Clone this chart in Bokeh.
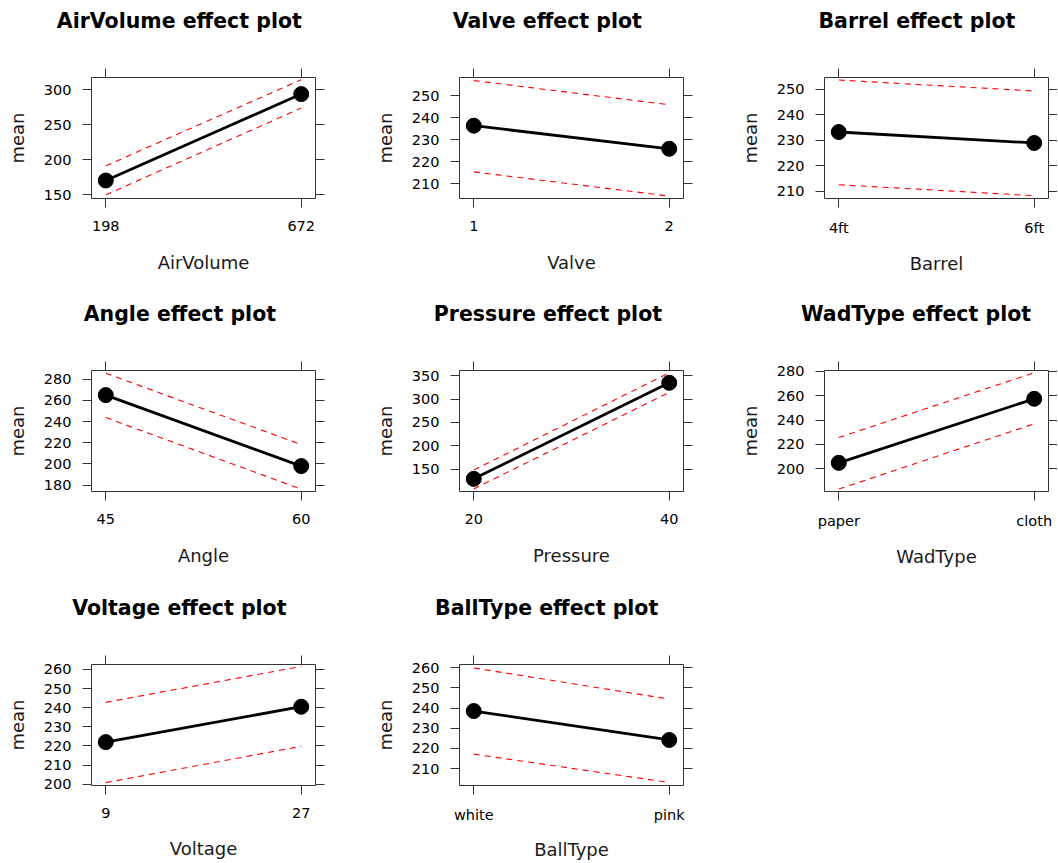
from bokeh.plotting import figure
from bokeh.layouts import column, row
from bokeh.models import FixedTicker, LinearAxis, Range1d, CustomJSTickFormatter
from bokeh.embed import file_html
from bokeh.resources import INLINE

# ---------------- data ----------------
predictors = ["AirVolume", "Valve", "Barrel", "Angle", "Pressure", "WadType", "Voltage", "BallType"]

airvolume_levels = [198, 672]
valve_levels = [1, 2]
barrel_levels = ["4ft", "6ft"]
angle_levels = [45, 60]
pressure_levels = [20, 40]
wadtype_levels = ["paper", "cloth"]
voltage_levels = [9, 27]
balltype_levels = ["white", "pink"]

airvolume_fit = [170.0, 293.5]
airvolume_lower = [149.5, 273.5]
airvolume_upper = [191.0, 314.0]

valve_fit = [236.5, 226.0]
valve_lower = [215.5, 204.5]
valve_upper = [257.0, 246.0]

barrel_fit = [233.3, 229.0]
barrel_lower = [212.6, 208.3]
barrel_upper = [253.7, 249.4]

angle_fit = [265.0, 198.0]
angle_lower = [243.8, 176.2]
angle_upper = [285.6, 218.3]

pressure_fit = [129.0, 335.0]
pressure_lower = [107.5, 314.5]
pressure_upper = [148.0, 356.5]

wadtype_fit = [204.8, 257.5]
wadtype_lower = [183.2, 236.9]
wadtype_upper = [225.6, 279.0]

voltage_fit = [222.0, 240.5]
voltage_lower = [200.8, 219.8]
voltage_upper = [242.8, 261.6]

balltype_fit = [238.5, 224.2]
balltype_lower = [217.2, 203.2]
balltype_upper = [259.8, 244.4]

airvolume_yticks = [150, 200, 250, 300]
valve_yticks = [210, 220, 230, 240, 250]
barrel_yticks = [210, 220, 230, 240, 250]
angle_yticks = [180, 200, 220, 240, 260, 280]
pressure_yticks = [150, 200, 250, 300, 350]
wadtype_yticks = [200, 220, 240, 260, 280]
voltage_yticks = [200, 210, 220, 230, 240, 250, 260]
balltype_yticks = [210, 220, 230, 240, 250, 260]

levels = [airvolume_levels, valve_levels, barrel_levels, angle_levels,
          pressure_levels, wadtype_levels, voltage_levels, balltype_levels]
fits = [airvolume_fit, valve_fit, barrel_fit, angle_fit,
        pressure_fit, wadtype_fit, voltage_fit, balltype_fit]
lowers = [airvolume_lower, valve_lower, barrel_lower, angle_lower,
          pressure_lower, wadtype_lower, voltage_lower, balltype_lower]
uppers = [airvolume_upper, valve_upper, barrel_upper, angle_upper,
          pressure_upper, wadtype_upper, voltage_upper, balltype_upper]
yticks = [airvolume_yticks, valve_yticks, barrel_yticks, angle_yticks,
          pressure_yticks, wadtype_yticks, voltage_yticks, balltype_yticks]

# ---------------- layout / style ----------------
y_limits = [(144.3, 317.2), (203.4, 258.4), (207.2, 254.7), (174.0, 288.2),
            (101.9, 361.4), (181.2, 280.8), (199.3, 262.6), (201.7, 261.5)]

FRAME_W = 224
FRAME_H = 121
col_left = [91, 124, 121]
col_right = [20, 20, 9]
col_title_shift = [0, 0, 4]
row_height = [293, 294, 275]
row_top = [77, 77, 77]

FONT = "DejaVu Sans"
INK = "#1a1a1a"
BOX = "#333333"
TITLE_PX = 20.5

# approximate advance widths of DejaVu Sans Bold (units per 2048 em), used to centre titles
_BOLD_W = {"A": 1585, "B": 1561, "P": 1500, "T": 1402, "V": 1585, "W": 2116,
           "a": 1382, "c": 1214, "d": 1466, "e": 1389, "f": 891, "g": 1466,
           "i": 702, "l": 702, "m": 2134, "n": 1458, "o": 1407, "p": 1466,
           "r": 1010, "s": 1219, "t": 979, "u": 1458, "v": 1335, "y": 1335, " ": 713}


def text_width(s, px):
    return sum(_BOLD_W.get(ch, 1300) for ch in s) / 2048.0 * px


def make_panel(i, r, c):
    name = predictors[i]
    lv = levels[i]
    numeric = not isinstance(lv[0], str)
    xs = list(lv) if numeric else list(range(1, len(lv) + 1))
    span = xs[-1] - xs[0]
    pad = 0.073 * span
    width = col_left[c] + FRAME_W + col_right[c]
    height = row_height[r]
    p = figure(width=width, height=height, output_backend="svg", toolbar_location=None,
               x_range=Range1d(xs[0] - pad, xs[-1] + pad),
               y_range=Range1d(*y_limits[i]),
               min_border_left=col_left[c], min_border_right=col_right[c],
               min_border_top=row_top[r],
               min_border_bottom=height - row_top[r] - FRAME_H,
               tools="")
    p.outline_line_color = BOX
    p.outline_line_width = 1
    p.xgrid.visible = False
    p.ygrid.visible = False
    p.background_fill_color = "white"
    p.border_fill_color = "white"

    def style(ax, ticks, show, tick_out=9, tick_color=BOX):
        ax.ticker = FixedTicker(ticks=ticks, minor_ticks=[])
        ax.axis_line_color = None
        ax.major_tick_in = 0
        ax.major_tick_out = tick_out
        ax.major_tick_line_color = tick_color
        ax.major_tick_line_width = 1
        ax.minor_tick_line_color = None
        ax.major_label_text_font = FONT
        ax.major_label_text_font_size = "14.5px"
        ax.major_label_text_color = "black"
        ax.axis_label_text_font = FONT
        ax.axis_label_text_font_size = "18px"
        ax.axis_label_text_font_style = "normal"
        ax.axis_label_text_color = INK
        if not show:
            ax.formatter = CustomJSTickFormatter(code="return ''")
            ax.major_label_text_font_size = "0px"
            ax.major_label_standoff = 0

    xb = p.xaxis[0]
    style(xb, xs, True)
    xb.axis_label = name
    xb.major_label_standoff = 13
    base_standoff = 18 if r < 2 else 17
    xb.axis_label_standoff = base_standoff
    if not numeric:
        xb.formatter = CustomJSTickFormatter(args=dict(labels=list(lv)),
                                             code="return labels[Math.round(tick) - 1];")
        xb.major_label_standoff = 12
        xb.axis_label_standoff = base_standoff - 4

    yl = p.yaxis[0]
    style(yl, yticks[i], True)
    yl.axis_label = "mean"
    yl.major_label_standoff = 11
    yl.axis_label_standoff = 13

    top = LinearAxis()
    style(top, xs, False)
    p.add_layout(top, "above")
    spacer = LinearAxis()   # invisible spacer between the top ticks and the title
    style(spacer, xs, False, tick_out=36, tick_color=None)
    p.add_layout(spacer, "above")
    right = LinearAxis()
    style(right, yticks[i], False)
    p.add_layout(right, "right")

    p.line(xs, fits[i], line_color="black", line_width=2.8)
    p.line(xs, lowers[i], line_color="red", line_width=1.1, line_dash="6 5")
    p.line(xs, uppers[i], line_color="red", line_width=1.1, line_dash="6 5")
    p.scatter(xs, fits[i], size=15, fill_color="black", line_color="black")

    title = f"{name} effect plot"
    p.title.text = title
    p.title.align = "left"
    p.title.offset = FRAME_W / 2 - 23 + col_title_shift[c] - text_width(title, TITLE_PX) / 2
    p.title.standoff = 0
    p.title.text_font = FONT
    p.title.text_font_style = "bold"
    p.title.text_font_size = f"{TITLE_PX}px"
    p.title.text_color = "black"
    return p


rows = []
k = 0
for r in range(3):
    figs = []
    for c in range(3):
        if k < len(predictors):
            figs.append(make_panel(k, r, c))
            k += 1
    rows.append(row(*figs))

layout = column(*rows)
open("out.html", "w").write(file_html(layout, INLINE))
